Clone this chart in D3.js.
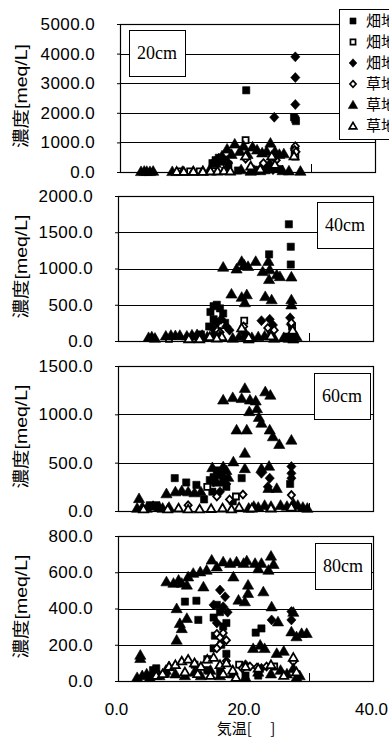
<!DOCTYPE html>
<html>
<head>
<meta charset="utf-8">
<script src="https://cdn.jsdelivr.net/npm/d3@7"></script>
<style>
  body { margin: 0; background: #fff; }
  svg { display: block; }
  .tick text { font-family: "Liberation Sans", Arial, sans-serif; font-size: 17px; fill: #000; letter-spacing: 0.4px; }
</style>
</head>
<body>
<svg id="chart" width="389" height="740"></svg>
<script>
// 凡例
const seriesNames = ["畑地1", "畑地2", "畑地3", "草地1", "草地2", "草地3"];
const seriesShapes = ["sqFill", "sqOpen", "diaFill", "diaOpen", "triFill", "triOpen"];

// 深さごとの縦軸
const depthLabels = ["20cm", "40cm", "60cm", "80cm"];
const yMaxes = [5000, 2000, 1500, 800];
const yTicks = [
  [0, 1000, 2000, 3000, 4000, 5000],
  [0, 500, 1000, 1500, 2000],
  [0, 500, 1000, 1500],
  [0, 200, 400, 600, 800]
];
const xTicks = [0, 20, 40];

// [気温, 濃度]  20cm
const cm20_a = [[14.5,300],[15.0,400],[15.5,480],[16.0,350],[16.5,420],[17.0,250],[19.8,2760],[27.3,1850],[27.5,1780],[27.6,1720],[21.0,80],[23.0,60],[25.0,100],[18.5,50]];
const cm20_b = [[19.7,1080],[27.4,600],[27.5,520],[9.3,20],[11.0,20],[12.5,20],[14.5,30],[16.5,40]];
const cm20_c = [[27.5,3890],[27.5,3190],[27.5,2280],[24.2,1850],[14.8,350],[15.5,450],[16.2,380],[17.0,300],[22.0,100],[24.0,80],[27.4,800]];
const cm20_d = [[27.5,870],[27.4,740],[27.6,680],[19.7,450],[22.5,300],[24.5,400]];
const cm20_e = [[3.3,20],[3.8,30],[4.2,25],[4.7,20],[5.2,30],[8.2,20],[9.8,25],[11.5,30],[13.0,40],[14.0,60],[15.0,300],[15.5,450],[16.0,550],[16.8,780],[17.5,600],[18.0,950],[18.8,700],[19.4,880],[20.0,600],[20.8,850],[21.5,750],[22.3,650],[23.0,700],[23.6,980],[24.3,700],[25.0,600],[25.7,620],[26.5,40],[28.3,30],[21.0,60],[22.0,50],[23.5,300],[24.5,150],[19.0,80],[17.0,100],[25.5,50],[20.5,30]];
const cm20_f = [[8.9,20],[10.0,15],[11.5,20],[13.0,20],[14.2,30],[15.3,30],[16.3,40],[17.3,30],[19.7,540],[27.3,540],[24.3,250],[20.5,200],[22.0,100],[23.8,540]];

// 40cm
const cm40_a = [[26.8,1610],[27.1,1300],[27.1,1055],[23.7,1195],[14.5,400],[15.0,480],[15.5,500],[16.0,450],[16.5,380],[15.0,300],[16.8,250],[14.3,200],[13.0,90],[12.0,60],[20.0,60],[24.0,80],[26.5,60],[27.5,50]];
const cm40_b = [[19.8,280],[16.2,220],[8.0,30],[27.3,200]];
const cm40_c = [[14.8,180],[15.5,250],[16.2,300],[17.0,200],[17.5,150],[22.5,280],[23.8,300],[24.3,220],[27.0,320],[27.1,230],[20.0,100],[19.5,150]];
const cm40_d = [[19.7,200],[27.2,250],[16.0,120],[23.5,180],[24.5,150]];
const cm40_e = [[4.8,50],[5.3,60],[5.8,40],[7.5,70],[8.3,80],[9.0,75],[9.7,80],[10.8,70],[11.6,85],[12.4,90],[13.2,80],[14.0,60],[16.5,1020],[18.6,995],[19.4,1100],[19.8,1050],[20.4,1030],[21.6,1100],[22.7,960],[23.6,1100],[23.8,985],[23.7,850],[24.9,915],[25.4,890],[27.2,885],[17.8,650],[19.4,605],[19.9,530],[20.2,640],[23.1,615],[24.1,570],[27.2,570],[27.2,500],[15.0,100],[16.0,80],[18.0,40],[19.0,60],[20.5,30],[21.0,50],[22.0,60],[23.0,70],[24.5,40],[26.0,50],[26.8,40],[27.5,30],[28.0,60]];
const cm40_f = [[11.1,30],[12.8,30],[14.4,60],[16.3,60],[19.4,180],[24.0,70],[27.4,150],[20.5,50],[15.5,40]];

// 60cm
const cm60_a = [[8.9,340],[10.7,295],[12.3,270],[14.4,320],[19.4,340],[27.0,280],[15.0,350],[15.5,420],[16.0,380],[16.5,300],[17.0,250],[14.8,200],[5.0,60],[6.0,60],[13.5,120],[18.0,100]];
const cm60_b = [[14.0,250],[18.5,150]];
const cm60_c = [[15.0,300],[15.8,400],[16.5,350],[17.0,280],[22.5,390],[23.8,340],[27.2,460],[27.2,390],[27.2,340],[23.5,250],[16.0,200]];
const cm60_d = [[19.6,170],[27.2,165],[15.5,150],[17.5,120],[11.0,60]];
const cm60_e = [[19.9,1270],[16.5,1150],[18.0,1175],[19.4,1165],[20.7,1150],[21.6,1140],[23.1,1235],[23.9,1200],[20.6,1030],[21.8,1060],[22.1,970],[22.5,910],[18.6,840],[20.2,840],[23.8,840],[24.3,770],[25.3,690],[27.2,735],[19.9,600],[18.1,510],[16.5,460],[19.9,440],[22.5,440],[23.7,465],[23.6,235],[24.9,235],[7.6,180],[3.3,130],[9.0,200],[10.0,210],[11.0,200],[12.0,190],[13.0,200],[3.0,30],[3.8,40],[4.5,30],[5.5,50],[6.5,40],[7.0,30],[8.0,40],[20.5,30],[21.3,50],[22.0,40],[23.0,60],[24.0,50],[25.5,60],[26.5,50],[27.5,80],[28.2,60],[29.0,40],[29.7,30],[16.0,380],[15.5,300],[14.8,450],[17.3,350],[17.0,420]];
const cm60_f = [[4.0,20],[7.8,20],[9.5,30],[11.0,20],[12.8,20],[14.6,25],[16.4,30],[17.8,20],[19.0,40],[24.0,30],[27.2,40],[21.0,30]];

// 80cm
const cm80_a = [[10.5,438],[12.3,443],[12.6,337],[15.0,350],[15.5,420],[16.0,380],[16.5,300],[17.0,320],[15.2,250],[16.2,200],[15.0,180],[17.0,150],[21.6,267],[22.5,290],[5.5,60],[6.0,70],[7.5,40],[12.0,90],[14.0,60],[16.0,50],[20.0,30],[22.0,30]];
const cm80_b = [[14.0,120],[19.0,90],[24.5,80]];
const cm80_c = [[16.0,502],[16.8,465],[15.0,420],[16.5,410],[17.2,380],[24.1,337],[27.2,383],[27.2,337],[20.0,90],[22.5,70],[15.5,320]];
const cm80_d = [[15.5,260],[16.0,240],[16.5,265],[17.0,225],[16.0,200],[15.5,180],[27.5,107],[20.7,80],[21.8,75],[23.3,80],[19.5,70],[17.0,110]];
const cm80_e = [[7.6,548],[8.7,540],[9.5,557],[10.0,540],[10.8,530],[11.0,575],[11.8,595],[12.9,603],[13.4,520],[13.9,612],[14.7,668],[15.5,630],[16.5,658],[17.6,650],[18.1,575],[18.6,658],[19.7,650],[20.2,664],[20.4,530],[21.5,650],[22.0,620],[22.5,650],[23.6,612],[24.0,690],[24.4,644],[20.4,484],[22.8,493],[18.9,447],[19.9,438],[9.2,400],[24.1,410],[10.8,346],[9.7,318],[10.0,290],[9.2,226],[25.1,327],[27.2,272],[28.8,263],[28.0,245],[29.6,263],[27.5,380],[21.2,180],[22.3,199],[23.0,180],[24.9,153],[26.0,165],[3.5,143],[3.5,125],[3.0,20],[3.8,30],[4.5,40],[5.0,20],[5.5,50],[6.5,30],[7.5,60],[8.0,80],[9.0,40],[10.5,30],[12.0,50],[13.0,30],[14.5,60],[16.0,30],[18.0,40],[20.0,20],[22.0,50],[24.0,40],[25.5,60],[26.5,40],[27.5,70],[28.5,30],[28.0,20]];
const cm80_f = [[6.0,30],[8.0,80],[9.0,90],[10.0,110],[11.0,120],[12.0,100],[13.0,80],[14.0,120],[15.0,130],[16.0,90],[17.0,100],[18.0,60],[20.0,80],[22.0,70],[24.0,90],[27.5,130],[7.0,40],[10.5,50],[12.5,40],[14.5,30],[16.5,40],[18.5,20],[26.0,30],[28.0,50]];

const panelData = [
  [cm20_a, cm20_b, cm20_c, cm20_d, cm20_e, cm20_f],
  [cm40_a, cm40_b, cm40_c, cm40_d, cm40_e, cm40_f],
  [cm60_a, cm60_b, cm60_c, cm60_d, cm60_e, cm60_f],
  [cm80_a, cm80_b, cm80_c, cm80_d, cm80_e, cm80_f]
];

// 配置
const frames = [
  { left: 120, right: 375, top: 24,  bottom: 172, box: [129, 30] },
  { left: 118, right: 373, top: 196, bottom: 341, box: [317, 202] },
  { left: 118, right: 373, top: 366, bottom: 511, box: [314, 373] },
  { left: 118, right: 373, top: 536, bottom: 681, box: [315, 543] }
];

const shapePath = {
  sqFill:  "M-3.6,-3.6h7.2v7.2h-7.2Z",
  sqOpen:  "M-3,-3h6v6h-6Z",
  diaFill: "M0,-5L4.6,0L0,5L-4.6,0Z",
  diaOpen: "M0,-3.9L3.6,0L0,3.9L-3.6,0Z",
  triFill: "M0,-5.5L5.6,4.2L-5.6,4.2Z",
  triOpen: "M0,-4.3L4.5,3.4L-4.5,3.4Z"
};
const isOpen = s => s.endsWith("Open");

const svg = d3.select("#chart");
svg.append("rect").attr("width", 389).attr("height", 740).attr("fill", "#fff");

const yFmt = d3.format(".1f");

frames.forEach((f, i) => {
  const x = d3.scaleLinear().domain([0, 40]).range([f.left, f.right]);
  const y = d3.scaleLinear().domain([0, yMaxes[i]]).range([f.bottom, f.top]);
  const g = svg.append("g");

  // 目盛線
  g.selectAll(".grid")
    .data(yTicks[i].filter(v => v > 0 && v < yMaxes[i]))
    .enter().append("line")
    .attr("x1", f.left).attr("x2", f.right)
    .attr("y1", d => Math.round(y(d)) + 0.5).attr("y2", d => Math.round(y(d)) + 0.5)
    .attr("stroke", "#000").attr("stroke-width", 1);

  // 枠
  g.append("rect")
    .attr("x", f.left + 0.5).attr("y", f.top + 0.5)
    .attr("width", f.right - f.left).attr("height", f.bottom - f.top)
    .attr("fill", "none").attr("stroke", "#000").attr("stroke-width", 1.2);

  // x=30 の小さな目盛
  g.append("line")
    .attr("x1", Math.round(x(30)) + 0.5).attr("x2", Math.round(x(30)) + 0.5)
    .attr("y1", f.bottom - 8).attr("y2", f.bottom)
    .attr("stroke", "#000");

  // 縦軸
  g.append("g")
    .attr("transform", "translate(" + f.left + ",0)")
    .call(d3.axisLeft(y).tickValues(yTicks[i]).tickFormat(yFmt).tickSize(3).tickPadding(22))
    .call(a => a.select(".domain").remove());

  g.append("text")
    .attr("transform", "translate(21," + ((f.top + f.bottom) / 2 - 2) + ") rotate(-90)")
    .attr("text-anchor", "middle")
    .attr("dy", "0.36em")
    .attr("textLength", 104)
    .attr("lengthAdjust", "spacingAndGlyphs")
    .style("font-family", "'Liberation Sans', 'Noto Sans CJK JP', sans-serif")
    .style("font-size", "17px")
    .text("濃度[meq/L]");

  // 深さラベル
  const bw = 56, bh = 46;
  g.append("rect")
    .attr("x", f.box[0] + 0.5).attr("y", f.box[1] + 0.5)
    .attr("width", bw).attr("height", bh)
    .attr("fill", "#fff").attr("stroke", "#000");
  g.append("text")
    .attr("x", f.box[0] + bw / 2).attr("y", f.box[1] + bh / 2 + 6)
    .attr("text-anchor", "middle")
    .style("font-family", "'Liberation Serif', 'Times New Roman', serif")
    .style("font-size", "18px")
    .text(depthLabels[i]);

  // 点
  panelData[i].forEach((pts, s) => {
    const shape = seriesShapes[s];
    g.append("g").selectAll("path")
      .data(pts)
      .enter().append("path")
      .attr("d", shapePath[shape])
      .attr("transform", d => "translate(" + x(d[0]) + "," + y(d[1]) + ")")
      .attr("fill", isOpen(shape) ? "#fff" : "#000")
      .attr("stroke", "#000")
      .attr("stroke-width", isOpen(shape) ? 1.8 : 0.6);
  });

  // 横軸 (最下段のみ)
  if (i === frames.length - 1) {
    g.append("g")
      .attr("transform", "translate(0," + f.bottom + ")")
      .call(d3.axisBottom(x).tickValues(xTicks).tickFormat(yFmt).tickSize(0).tickPadding(22))
      .call(a => a.select(".domain").remove())
      .call(a => a.selectAll(".tick text").attr("x", -2).style("letter-spacing", "0px"));
    g.append("text")
      .attr("x", 246).attr("y", 734)
      .attr("text-anchor", "middle")
      .style("font-family", "'Noto Sans CJK JP', sans-serif")
      .style("font-size", "15px")
      .text("気温[　 ]");
  }
});

// 凡例
const leg = svg.append("g");
leg.append("rect")
  .attr("x", 339.5).attr("y", 9.5).attr("width", 70).attr("height", 130)
  .attr("fill", "#fff").attr("stroke", "#000");
seriesNames.forEach((name, s) => {
  const ly = 21 + s * 21;
  const shape = seriesShapes[s];
  leg.append("path")
    .attr("d", shapePath[shape])
    .attr("transform", "translate(353," + ly + ") scale(0.85)")
    .attr("fill", isOpen(shape) ? "#fff" : "#000")
    .attr("stroke", "#000")
    .attr("stroke-width", isOpen(shape) ? 2 : 0.6);
  leg.append("text")
    .attr("x", 366).attr("y", ly)
    .attr("dy", "0.36em")
    .style("font-family", "'Noto Sans CJK JP', sans-serif")
    .style("font-size", "15px")
    .text(name);
});
</script>
</body>
</html>
